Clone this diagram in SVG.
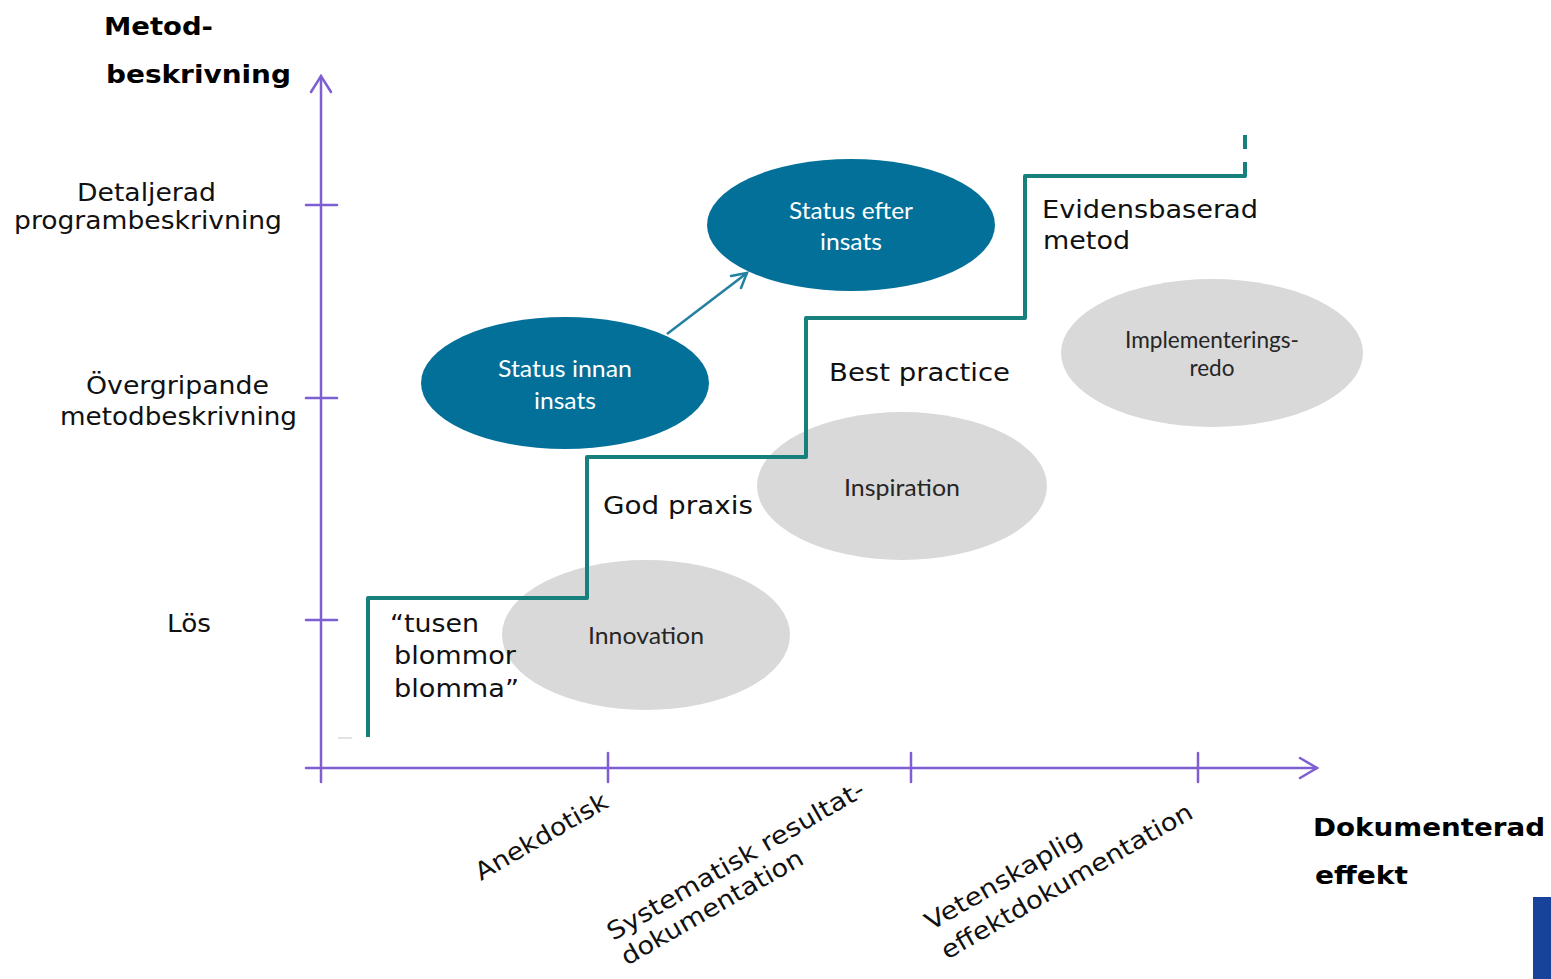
<svg xmlns="http://www.w3.org/2000/svg" width="1551" height="979" viewBox="0 0 1551 979">
<style>
.lbl{font-family:"DejaVu Sans",Verdana,sans-serif;font-size:24.5px;fill:#111}
.bold{font-family:"DejaVu Sans",Verdana,sans-serif;font-weight:bold;font-size:25px;fill:#000}
.el{font-family:Lato,"Open Sans",sans-serif;font-size:24px;text-anchor:middle}
.w{fill:#fff}
.g{fill:#262626}
.axis{stroke:#7d5fd3;stroke-width:2.5;fill:none;stroke-linecap:round}
.step{stroke:#17807c;stroke-width:4;fill:none;stroke-linejoin:round}
.teal{fill:#037099}
.grey{fill:#d9d9d9}
</style>
<rect width="1551" height="979" fill="#fff"/>

<g id="axes">
  <line class="axis" x1="321" y1="76" x2="321" y2="782"/>
  <polyline class="axis" points="311,92 321,76 331,92"/>
  <line class="axis" x1="306" y1="768" x2="1317" y2="768"/>
  <polyline class="axis" points="1300,758 1317,768 1300,778"/>
  <line class="axis" x1="306" y1="205" x2="337" y2="205"/>
  <line class="axis" x1="306" y1="398" x2="337" y2="398"/>
  <line class="axis" x1="306" y1="620" x2="337" y2="620"/>
  <line class="axis" x1="608" y1="753" x2="608" y2="782"/>
  <line class="axis" x1="911" y1="753" x2="911" y2="782"/>
  <line class="axis" x1="1198" y1="753" x2="1198" y2="782"/>
</g>

<g id="axis-labels">
  <text class="bold" x="104" y="35" textLength="109" lengthAdjust="spacingAndGlyphs">Metod-</text>
  <text class="bold" x="106" y="83" textLength="185" lengthAdjust="spacingAndGlyphs">beskrivning</text>
  <text class="bold" x="1313" y="836" textLength="232" lengthAdjust="spacingAndGlyphs">Dokumenterad</text>
  <text class="bold" x="1315" y="884" textLength="93" lengthAdjust="spacingAndGlyphs">effekt</text>
  <text class="lbl" x="77" y="201" textLength="139" lengthAdjust="spacingAndGlyphs">Detaljerad</text>
  <text class="lbl" x="14" y="229" textLength="268" lengthAdjust="spacingAndGlyphs">programbeskrivning</text>
  <text class="lbl" x="86" y="394" textLength="183" lengthAdjust="spacingAndGlyphs">Övergripande</text>
  <text class="lbl" x="60" y="425" textLength="237" lengthAdjust="spacingAndGlyphs">metodbeskrivning</text>
  <text class="lbl" x="167" y="632" textLength="44" lengthAdjust="spacingAndGlyphs">Lös</text>
  <text class="lbl" transform="translate(481,881) rotate(-30)" textLength="149" lengthAdjust="spacingAndGlyphs">Anekdotisk</text>
  <text class="lbl" transform="translate(613,941) rotate(-30)" textLength="293" lengthAdjust="spacingAndGlyphs">Systematisk resultat-</text>
  <text class="lbl" transform="translate(627,966) rotate(-30)" textLength="206" lengthAdjust="spacingAndGlyphs">dokumentation</text>
  <text class="lbl" transform="translate(931,931) rotate(-30)" textLength="177" lengthAdjust="spacingAndGlyphs">Vetenskaplig</text>
  <text class="lbl" transform="translate(947,960) rotate(-30)" textLength="286" lengthAdjust="spacingAndGlyphs">effektdokumentation</text>
</g>

<g id="node-innovation">
  <ellipse class="grey" cx="646" cy="635" rx="144" ry="75"/>
  <text class="el g" x="646" y="644" textLength="116" lengthAdjust="spacingAndGlyphs">Innovation</text>
</g>
<g id="node-inspiration">
  <ellipse class="grey" cx="902" cy="486" rx="145" ry="74"/>
  <text class="el g" x="902" y="496" textLength="116" lengthAdjust="spacingAndGlyphs">Inspiration</text>
</g>
<g id="node-implementeringsredo">
  <ellipse class="grey" cx="1212" cy="353" rx="151" ry="74"/>
  <text class="el g" x="1212" y="348" font-size="22" textLength="174" lengthAdjust="spacingAndGlyphs">Implementerings-</text>
  <text class="el g" x="1212" y="376" font-size="22" textLength="45" lengthAdjust="spacingAndGlyphs">redo</text>
</g>
<g id="node-status-innan">
  <ellipse class="teal" cx="565" cy="383" rx="144" ry="66"/>
  <text class="el w" x="565" y="377" textLength="134" lengthAdjust="spacingAndGlyphs">Status innan</text>
  <text class="el w" x="565" y="409" textLength="62" lengthAdjust="spacingAndGlyphs">insats</text>
</g>
<g id="node-status-efter">
  <ellipse class="teal" cx="851" cy="225" rx="144" ry="66"/>
  <text class="el w" x="851" y="219" textLength="124" lengthAdjust="spacingAndGlyphs">Status efter</text>
  <text class="el w" x="851" y="250" textLength="62" lengthAdjust="spacingAndGlyphs">insats</text>
</g>

<g id="connectors">
  <path class="step" d="M368,737 V598 H587 V457 H806 V318 H1025 V176 H1245 V162"/>
  <path class="step" d="M1245,149 V135"/>
  <line x1="667" y1="334" x2="747" y2="273" stroke="#2480a0" stroke-width="2.5"/>
  <polyline points="731,276 747,273 741,288" fill="none" stroke="#2480a0" stroke-width="2.5" stroke-linecap="round"/>
  <line x1="338" y1="738" x2="352" y2="738" stroke="#e3e3e3" stroke-width="2"/>
</g>

<g id="stage-labels">
  <text class="lbl" x="390" y="632" textLength="89" lengthAdjust="spacingAndGlyphs">“tusen</text>
  <text class="lbl" x="394" y="664" textLength="122" lengthAdjust="spacingAndGlyphs">blommor</text>
  <text class="lbl" x="394" y="697" textLength="125" lengthAdjust="spacingAndGlyphs">blomma”</text>
  <text class="lbl" x="603" y="514" textLength="150" lengthAdjust="spacingAndGlyphs">God praxis</text>
  <text class="lbl" x="829" y="381" textLength="181" lengthAdjust="spacingAndGlyphs">Best practice</text>
  <text class="lbl" x="1042" y="218" textLength="216" lengthAdjust="spacingAndGlyphs">Evidensbaserad</text>
  <text class="lbl" x="1043" y="249" textLength="87" lengthAdjust="spacingAndGlyphs">metod</text>
</g>

<rect x="1533" y="897" width="18" height="82" fill="#17449a"/>
</svg>
